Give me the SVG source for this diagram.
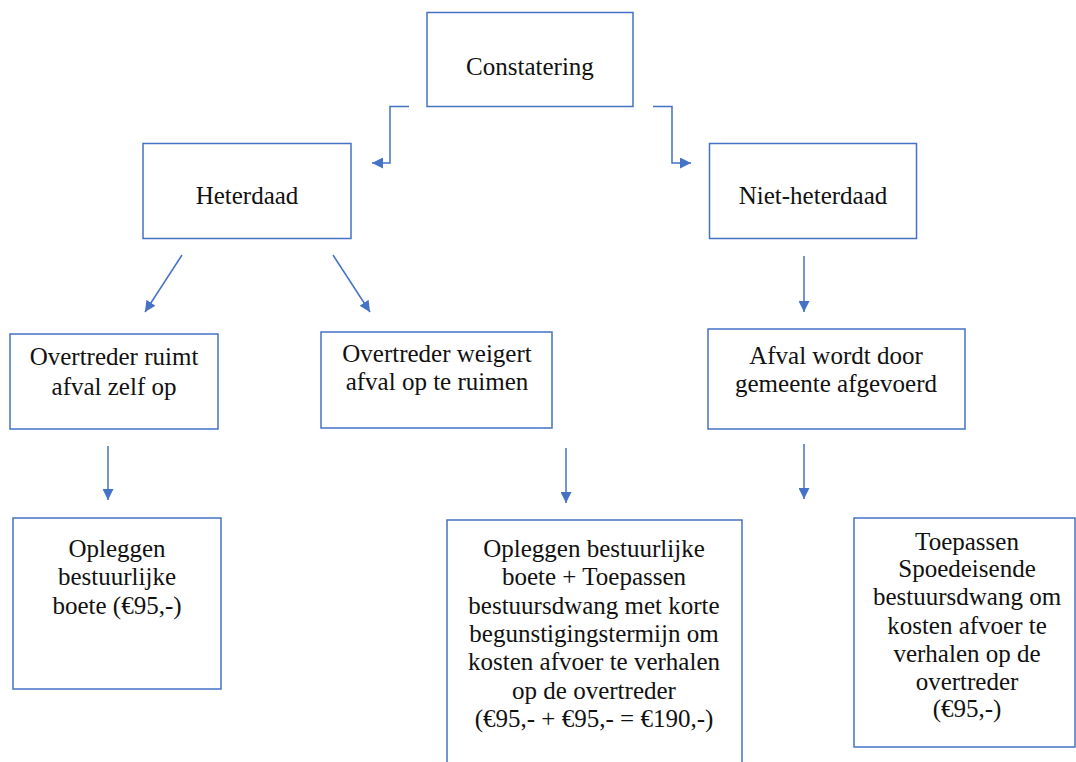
<svg xmlns="http://www.w3.org/2000/svg" width="1076" height="762" viewBox="0 0 1076 762">
<style>
.box{fill:#fff;stroke:#4472C4;stroke-width:1.5}
.t{font-family:'Liberation Serif','DejaVu Serif',serif;font-size:25px;fill:#111;text-anchor:middle}
.c{fill:none;stroke:#4472C4;stroke-width:1.5}
</style>
<defs>
<marker id="ah" viewBox="0 0 10 10" refX="10" refY="5" markerWidth="11" markerHeight="11" markerUnits="userSpaceOnUse" orient="auto">
<path d="M0,0 L10,5 L0,10 Z" fill="#4472C4"/>
</marker>
</defs>
<rect width="1076" height="762" fill="#fff"/>
<g id="connectors">
<polyline class="c" points="409,106.5 390,106.5 390,163 372,163" marker-end="url(#ah)"/>
<polyline class="c" points="653,106.5 672,106.5 672,163 691,163" marker-end="url(#ah)"/>
<line class="c" x1="182" y1="255" x2="145" y2="312" marker-end="url(#ah)"/>
<line class="c" x1="333" y1="255" x2="370" y2="312" marker-end="url(#ah)"/>
<line class="c" x1="804" y1="256" x2="804" y2="312" marker-end="url(#ah)"/>
<line class="c" x1="108" y1="446" x2="108" y2="500" marker-end="url(#ah)"/>
<line class="c" x1="566" y1="448" x2="566" y2="503" marker-end="url(#ah)"/>
<line class="c" x1="804" y1="444" x2="804" y2="499" marker-end="url(#ah)"/>
</g>
<g id="constatering">
<rect class="box" x="427" y="12.5" width="206" height="94"/>
<text class="t" x="530" y="75">Constatering</text>
</g>
<g id="heterdaad">
<rect class="box" x="143" y="143.5" width="208" height="95"/>
<text class="t" x="247" y="204">Heterdaad</text>
</g>
<g id="niet-heterdaad">
<rect class="box" x="709.5" y="143.5" width="207" height="95"/>
<text class="t" x="813" y="204">Niet-heterdaad</text>
</g>
<g id="ruimt">
<rect class="box" x="10" y="334" width="208" height="95"/>
<text class="t" x="114" y="365">Overtreder ruimt</text>
<text class="t" x="114" y="395">afval zelf op</text>
</g>
<g id="weigert">
<rect class="box" x="321" y="332" width="231" height="96"/>
<text class="t" x="437" y="362">Overtreder weigert</text>
<text class="t" x="437" y="390">afval op te ruimen</text>
</g>
<g id="afval">
<rect class="box" x="708" y="329" width="257" height="100"/>
<text class="t" x="836" y="364">Afval wordt door</text>
<text class="t" x="836" y="392">gemeente afgevoerd</text>
</g>
<g id="boete">
<rect class="box" x="13" y="518" width="208" height="171"/>
<text class="t" x="117" y="557">Opleggen</text>
<text class="t" x="117" y="585">bestuurlijke</text>
<text class="t" x="117" y="614">boete (€95,-)</text>
</g>
<g id="boete-dwang">
<rect class="box" x="447" y="520" width="295" height="260"/>
<text class="t" x="594" y="557">Opleggen bestuurlijke</text>
<text class="t" x="594" y="585">boete + Toepassen</text>
<text class="t" x="594" y="614">bestuursdwang met korte</text>
<text class="t" x="594" y="642">begunstigingstermijn om</text>
<text class="t" x="594" y="670">kosten afvoer te verhalen</text>
<text class="t" x="594" y="699">op de overtreder</text>
<text class="t" x="594" y="727">(€95,- + €95,- = €190,-)</text>
</g>
<g id="spoed">
<rect class="box" x="854" y="518" width="221" height="229"/>
<text class="t" x="967" y="550">Toepassen</text>
<text class="t" x="967" y="577">Spoedeisende</text>
<text class="t" x="967" y="605">bestuursdwang om</text>
<text class="t" x="967" y="634">kosten afvoer te</text>
<text class="t" x="967" y="662">verhalen op de</text>
<text class="t" x="967" y="690">overtreder</text>
<text class="t" x="967" y="717">(€95,-)</text>
</g>
</svg>
